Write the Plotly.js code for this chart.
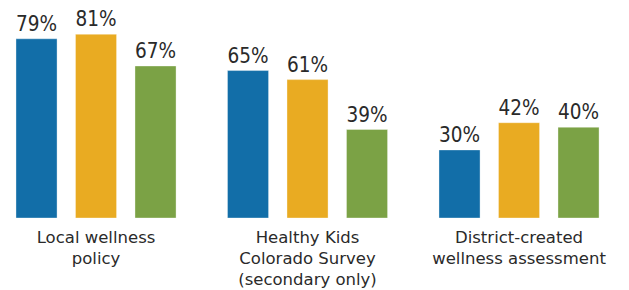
<!DOCTYPE html>
<html><head><meta charset="utf-8">
<script src="https://cdn.plot.ly/plotly-3.0.1.min.js"></script>
<style>html,body{margin:0;padding:0;background:#fff}#chart{width:629px;height:290px}</style>
</head><body><div id="chart"></div>
<script>
const categories = ["Local wellness<br>policy", "Healthy Kids<br>Colorado Survey<br>(secondary only)", "District-created<br>wellness assessment"];
const seriesNames = ["Series A", "Series B", "Series C"];
const seriesA = [79, 65, 30];
const seriesB = [81, 61, 42];
const seriesC = [67, 39, 40];
const colors = ["#126ea8", "#e9ab22", "#7ba245"];

const allSeries = [seriesA, seriesB, seriesC];
const traces = allSeries.map((vals, i) => ({
  type: "bar",
  name: seriesNames[i],
  x: [0, 1, 2],
  y: vals,
  marker: {color: colors[i], line: {color: "rgba(255,255,255,0.35)", width: 1}},
  text: vals.map(v => v + "%"),
  textposition: "outside",
  textfont: {family: "'DejaVu Sans Condensed', 'DejaVu Sans', sans-serif", size: 21, color: "#2a2a2a"},
  cliponaxis: false,
  hoverinfo: "skip"
}));

Plotly.newPlot("chart", traces, {
  width: 629, height: 290,
  margin: {l: 0, r: 0, t: 0, b: 72},
  barmode: "group",
  bargap: 0.156,
  bargroupgap: 0.31,
  showlegend: false,
  paper_bgcolor: "#fff", plot_bgcolor: "#fff",
  xaxis: {
    range: [-0.454, 2.52],
    tickvals: [0, 1, 2],
    ticktext: categories,
    tickfont: {family: "'DejaVu Sans', sans-serif", size: 16.5, color: "#2a2a2a"},
    ticklabelstandoff: 7,
    showgrid: false, zeroline: false, showline: false, ticks: ""
  },
  yaxis: {range: [0, 96.1], visible: false}
}, {staticPlot: true});
</script></body></html>
